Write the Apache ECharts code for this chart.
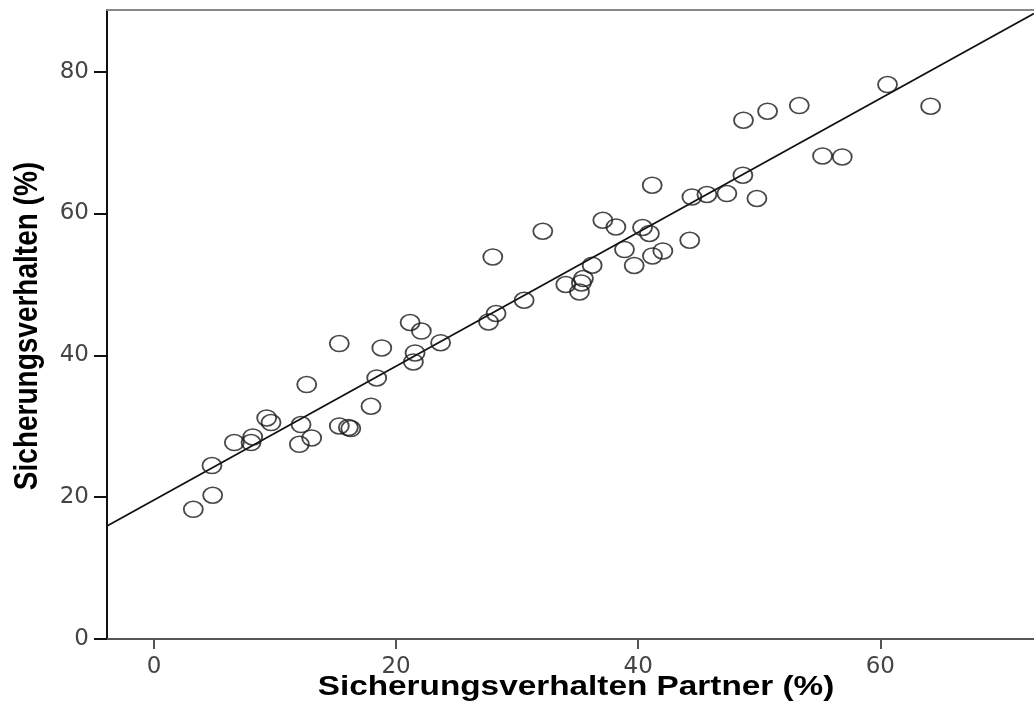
<!DOCTYPE html>
<html>
<head>
<meta charset="utf-8">
<script src="https://cdn.jsdelivr.net/npm/echarts@6/dist/echarts.min.js"></script>
<style>
html,body{margin:0;padding:0;background:#fff;}
#chart{width:1034px;height:726px;}
</style>
</head>
<body>
<div id="chart"></div>
<script>
// Data
const partnerPct = [3.25,4.85,4.79,6.64,8.02,8.16,9.31,9.67,12.01,12.15,13.03,12.62,15.31,16.06,16.26,15.31,18.82,18.40,17.93,21.16,22.09,21.57,21.43,23.68,27.64,28.26,30.58,27.99,32.12,34.02,35.15,35.31,35.48,36.20,37.08,38.16,38.87,39.67,40.36,40.93,41.18,42.04,41.16,44.26,44.44,45.68,47.33,48.65,49.81,48.70,50.69,53.31,55.23,56.86,60.60,64.16];
const ownPct = [18.29,20.27,24.46,27.70,27.70,28.49,31.17,30.52,27.46,30.24,28.35,35.88,30.04,29.82,29.68,41.66,41.04,36.81,32.82,44.63,43.43,40.34,39.07,41.78,44.71,45.90,47.77,53.88,57.50,49.99,48.94,50.21,50.83,52.71,59.05,58.11,54.92,52.67,58.03,57.18,54.02,54.72,63.99,56.23,62.34,62.68,62.82,65.40,62.12,73.16,74.43,75.23,68.12,67.98,78.19,75.13];
const fitLineX = [-3.88, 72.7];
const fitLineY = [15.94, 88.2];
const xTicks = [0, 20, 40, 60];
const yTicks = [0, 20, 40, 60, 80];
const xTitle = 'Sicherungsverhalten Partner (%)';
const yTitle = 'Sicherungsverhalten (%)';

const points = partnerPct.map((x, i) => [x, ownPct[i]]);
const fitLine = fitLineX.map((x, i) => [x, fitLineY[i]]);

const chart = echarts.init(document.getElementById('chart'), null, {renderer: 'canvas'});
const font = '"Liberation Sans", Arial, sans-serif';
const tickFont = '"DejaVu Sans", sans-serif';
const X_MIN = -3.88, X_MAX = 72.7;
chart.setOption({
  animation: false,
  backgroundColor: '#fff',
  grid: {left: 107, top: 10, right: 0, height: 629, show: false, containLabel: false},
  xAxis: [{
    type: 'value', min: X_MIN, max: X_MAX,
    splitLine: {show: false},
    axisLine: {show: true, onZero: false, lineStyle: {color: '#555', width: 2}},
    axisTick: {show: true, length: 10, lineStyle: {color: '#555', width: 2}, customValues: xTicks},
    axisLabel: {margin: 17, fontSize: 23, color: '#444', fontFamily: tickFont, customValues: xTicks},
  }, {
    type: 'value', min: X_MIN, max: X_MAX, position: 'top',
    splitLine: {show: false},
    axisLine: {show: true, onZero: false, lineStyle: {color: '#888', width: 2}},
    axisTick: {show: false},
    axisLabel: {show: false}
  }],
  yAxis: {
    type: 'value', min: 0, max: 88.7, interval: 20,
    splitLine: {show: false},
    axisLine: {show: true, onZero: false, lineStyle: {color: '#111', width: 2}},
    axisTick: {show: true, length: 13, lineStyle: {color: '#111', width: 2}, customValues: yTicks},
    axisLabel: {margin: 18, fontSize: 23, color: '#444', fontFamily: tickFont, customValues: yTicks},
  },
  graphic: [
    {type: 'text', x: 576, y: 687, scaleX: 1.19,
     style: {text: xTitle, font: 'bold 28px ' + font, fill: '#000', align: 'center', verticalAlign: 'middle'}},
    {type: 'text', x: 28, y: 326, rotation: Math.PI / 2, scaleY: 1.19,
     style: {text: yTitle, font: 'bold 28px ' + font, fill: '#000', align: 'center', verticalAlign: 'middle'}}
  ],
  series: [
    {
      type: 'line', data: fitLine, symbol: 'none', silent: true,
      lineStyle: {color: '#111', width: 1.8}, z: 2
    },
    {
      type: 'scatter', data: points,
      symbol: 'path://M0,10 A10,10 0 1,1 20,10 A10,10 0 1,1 0,10 Z',
      symbolSize: [19, 16],
      itemStyle: {color: 'rgba(0,0,0,0)', borderColor: '#1a1a1a', borderWidth: 1.7},
      z: 3
    }
  ]
});
</script>
</body>
</html>
